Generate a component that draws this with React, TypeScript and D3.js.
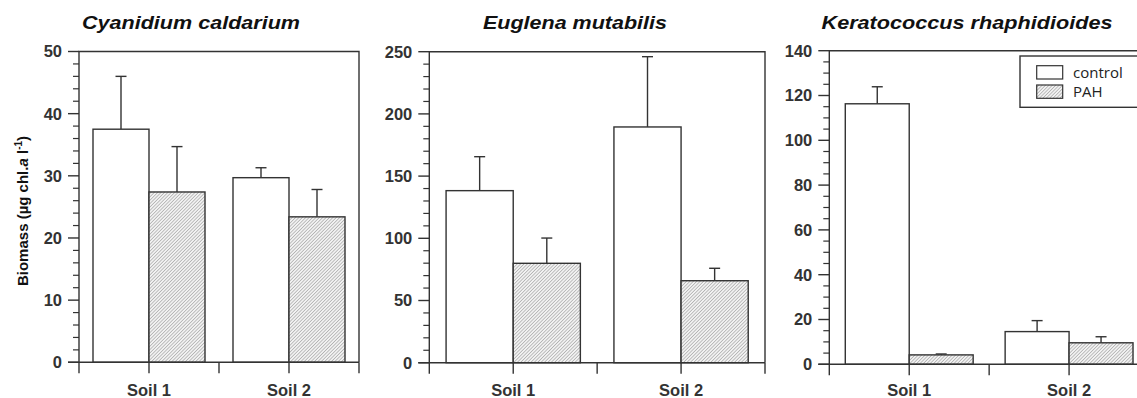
import React, { useEffect, useRef } from 'react';
import * as d3 from 'd3';

// data (mean, upward error = sd)
const soils = ['Soil 1', 'Soil 2'];
const treatments = ['control', 'PAH'];

const cyanidiumControl = [37.5, 29.7];
const cyanidiumControlErr = [8.5, 1.6];
const cyanidiumPAH = [27.4, 23.4];
const cyanidiumPAHErr = [7.3, 4.4];

const euglenaControl = [138.3, 189.5];
const euglenaControlErr = [27.3, 56.5];
const euglenaPAH = [79.9, 65.9];
const euglenaPAHErr = [20.3, 10.0];

const keratoControl = [116.3, 14.6];
const keratoControlErr = [7.6, 4.9];
const keratoPAH = [4.2, 9.6];
const keratoPAHErr = [0.4, 2.7];

const cyanidiumTicks = [0, 10, 20, 30, 40, 50];
const euglenaTicks = [0, 50, 100, 150, 200, 250];
const keratoTicks = [0, 20, 40, 60, 80, 100, 120, 140];

const INK = '#333';
const FONT = '"Liberation Sans", Arial, sans-serif';

const panels = [
  {
    title: 'Cyanidium caldarium', titleX: 191, titleW: 218,
    x0: 79, x1: 359, top: 51.5, bottom: 362.3,
    ticks: cyanidiumTicks, minor: 2,
    values: [cyanidiumControl, cyanidiumPAH], errors: [cyanidiumControlErr, cyanidiumPAHErr],
  },
  {
    title: 'Euglena mutabilis', titleX: 575, titleW: 184,
    x0: 429.3, x1: 765, top: 51.7, bottom: 362.7,
    ticks: euglenaTicks, minor: 10,
    values: [euglenaControl, euglenaPAH], errors: [euglenaControlErr, euglenaPAHErr],
  },
  {
    title: 'Keratococcus rhaphidioides', titleX: 967, titleW: 291,
    x0: 829.3, x1: 1149, top: 50.7, bottom: 364.3,
    ticks: keratoTicks, minor: 5,
    values: [keratoControl, keratoPAH], errors: [keratoControlErr, keratoPAHErr],
  },
];

const App = () => {
  const svgRef = useRef<SVGSVGElement>(null);

  useEffect(() => {
    const svg = d3.select(svgRef.current);
    svg.selectAll('*').remove();

    // fine hatch for the PAH bars
    const pat = svg.append('defs').append('pattern')
      .attr('id', 'hatch')
      .attr('patternUnits', 'userSpaceOnUse')
      .attr('width', 2.4)
      .attr('height', 2.4)
      .attr('patternTransform', 'rotate(45)');
    pat.append('rect').attr('width', 2.4).attr('height', 2.4).attr('fill', '#f2f2f2');
    pat.append('line')
      .attr('x1', 0).attr('y1', 0).attr('x2', 0).attr('y2', 2.4)
      .attr('stroke', '#8c8c8c').attr('stroke-width', 1);

    panels.forEach(p => {
      const g = svg.append('g');
      const yMax = p.ticks[p.ticks.length - 1];
      const y = d3.scaleLinear().domain([0, yMax]).range([p.bottom, p.top]);
      const xGroup = d3.scaleBand().domain(soils).range([p.x0, p.x1]).padding(0);
      const bw = xGroup.bandwidth();
      const xSub = d3.scaleBand().domain(treatments).range([bw * 0.1, bw * 0.9]).padding(0);

      // bars with upper error bars
      treatments.forEach((t, ti) => {
        soils.forEach((s, si) => {
          const v = p.values[ti][si];
          const e = p.errors[ti][si];
          const bx = xGroup(s)! + xSub(t)!;
          const cx = bx + xSub.bandwidth() / 2;
          g.append('line')
            .attr('x1', cx).attr('x2', cx)
            .attr('y1', y(v)).attr('y2', y(v + e))
            .attr('stroke', INK).attr('stroke-width', 1.4);
          g.append('line')
            .attr('x1', cx - 5.5).attr('x2', cx + 5.5)
            .attr('y1', y(v + e)).attr('y2', y(v + e))
            .attr('stroke', INK).attr('stroke-width', 1.4);
          g.append('rect')
            .attr('x', bx)
            .attr('y', y(v))
            .attr('width', xSub.bandwidth())
            .attr('height', y(0) - y(v))
            .attr('fill', ti === 0 ? '#ffffff' : 'url(#hatch)')
            .attr('stroke', INK)
            .attr('stroke-width', 1.4);
        });
      });

      // frame: left axis, top, right
      g.append('path')
        .attr('d', `M${p.x0},${p.bottom}V${p.top}H${p.x1}V${p.bottom}`)
        .attr('fill', 'none').attr('stroke', INK).attr('stroke-width', 1.4);

      // baseline, running into the 0 tick
      g.append('line')
        .attr('x1', p.x0 - 11).attr('x2', p.x1)
        .attr('y1', p.bottom).attr('y2', p.bottom)
        .attr('stroke', INK).attr('stroke-width', 1.4);

      // y axis ticks
      const minorTicks = d3.range(0, yMax + 0.001, p.minor).filter(v => !p.ticks.includes(v));
      minorTicks.forEach(v => {
        g.append('line')
          .attr('x1', p.x0 - 6).attr('x2', p.x0)
          .attr('y1', y(v)).attr('y2', y(v))
          .attr('stroke', INK).attr('stroke-width', 1.2);
      });
      p.ticks.forEach(v => {
        g.append('line')
          .attr('x1', p.x0 - 11).attr('x2', p.x0)
          .attr('y1', y(v)).attr('y2', y(v))
          .attr('stroke', INK).attr('stroke-width', 1.4);
        g.append('text')
          .attr('x', p.x0 - 17)
          .attr('y', y(v))
          .attr('dy', '0.36em')
          .attr('text-anchor', 'end')
          .attr('font-family', FONT)
          .attr('font-weight', 'bold')
          .attr('font-size', 16.5)
          .attr('fill', INK)
          .text(v);
      });

      // x axis ticks at group edges and centers
      const xTicks = [p.x0, ...soils.map(s => xGroup(s)! + bw / 2), xGroup(soils[1])!, p.x1];
      xTicks.forEach(xt => {
        g.append('line')
          .attr('x1', xt).attr('x2', xt)
          .attr('y1', p.bottom).attr('y2', p.bottom + 11)
          .attr('stroke', INK).attr('stroke-width', 1.4);
      });
      soils.forEach(s => {
        g.append('text')
          .attr('x', xGroup(s)! + bw / 2)
          .attr('y', 395.5)
          .attr('text-anchor', 'middle')
          .attr('font-family', FONT)
          .attr('font-weight', 'bold')
          .attr('font-size', 16.5)
          .attr('fill', INK)
          .text(s);
      });

      // panel title
      g.append('text')
        .attr('x', p.titleX - p.titleW / 2)
        .attr('y', 29)
        .attr('textLength', p.titleW)
        .attr('lengthAdjust', 'spacingAndGlyphs')
        .attr('font-family', FONT)
        .attr('font-weight', 'bold')
        .attr('font-style', 'italic')
        .attr('font-size', 18.5)
        .attr('fill', '#111')
        .text(p.title);
    });

    // y-axis label
    const yl = svg.append('text')
      .attr('transform', 'translate(28,211) rotate(-90)')
      .attr('text-anchor', 'middle')
      .attr('font-family', FONT)
      .attr('font-weight', 'bold')
      .attr('font-size', 15)
      .attr('fill', '#111');
    yl.append('tspan').text('Biomass (µg chl.');
    yl.append('tspan').attr('font-style', 'italic').text('a');
    yl.append('tspan').text(' l');
    yl.append('tspan').attr('font-size', 10).attr('dy', -6).text('-1');
    yl.append('tspan').attr('dy', 6).text(')');

    // legend
    const lg = svg.append('g');
    lg.append('rect')
      .attr('x', 1020).attr('y', 56).attr('width', 130).attr('height', 51.3)
      .attr('fill', '#ffffff').attr('stroke', INK).attr('stroke-width', 1.4);
    treatments.forEach((t, i) => {
      lg.append('rect')
        .attr('x', 1036.7).attr('y', 65.7 + i * 19.3)
        .attr('width', 26).attr('height', 13.3)
        .attr('fill', i === 0 ? '#ffffff' : 'url(#hatch)')
        .attr('stroke', INK).attr('stroke-width', 1.2);
      lg.append('text')
        .attr('x', 1073).attr('y', 77.5 + i * 19.3)
        .attr('font-family', '"Open Sans", sans-serif')
        .attr('font-size', 15)
        .attr('fill', '#222')
        .text(t);
    });
  }, []);

  return (
    <svg
      ref={svgRef}
      width={1137}
      height={398}
      style={{ position: 'absolute', left: 0, top: 0, background: '#fff' }}
    />
  );
};

export default App;
